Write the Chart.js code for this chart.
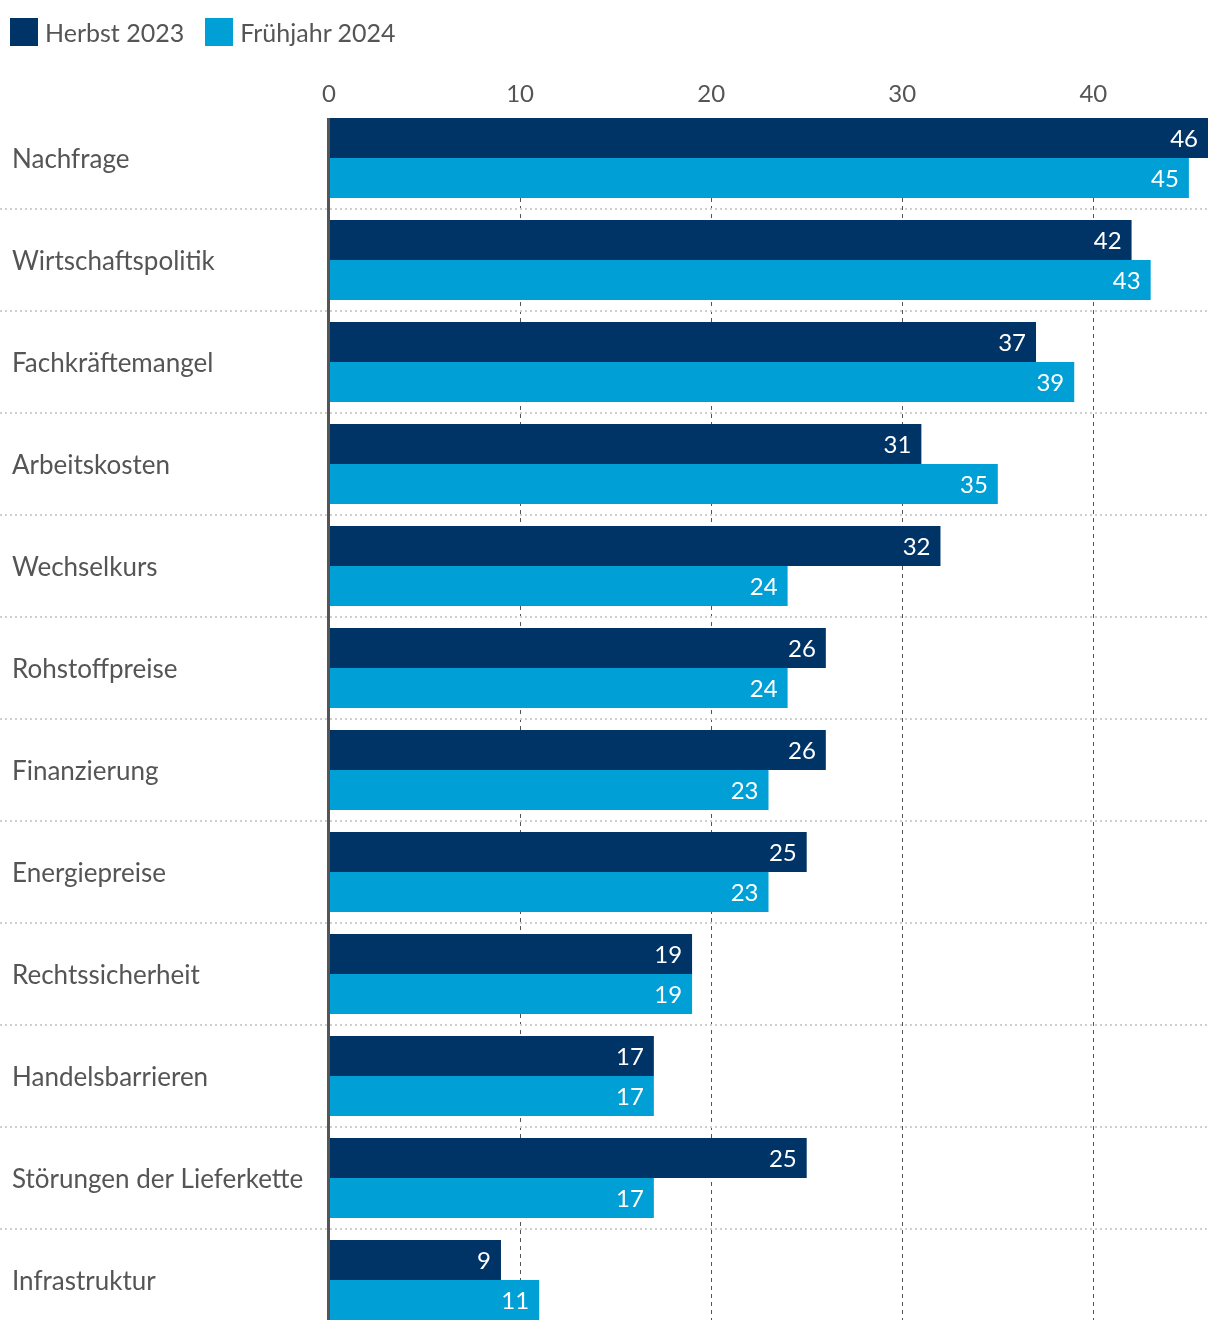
<!DOCTYPE html>
<html><head><meta charset="utf-8">
<script src="https://cdn.jsdelivr.net/npm/chart.js@4/dist/chart.umd.min.js"></script>
<style>
html,body{margin:0;padding:0;background:#fff;overflow:hidden;}
#wrap{position:relative;width:1220px;height:1332px;}
#legend{position:absolute;left:10px;top:17px;display:flex;align-items:center;font-family:Lato,sans-serif;font-size:25px;color:#555;}
#legend .it{display:flex;align-items:center;margin-right:21px;}
#legend .sw{width:28px;height:28px;margin-right:7px;}
canvas{position:absolute;left:0;top:0;}
</style></head>
<body><div id="wrap"><canvas id="c" width="1220" height="1332"></canvas>
<div id="legend"></div></div>
<script>
const categories = ["Nachfrage","Wirtschaftspolitik","Fachkräftemangel","Arbeitskosten","Wechselkurs","Rohstoffpreise","Finanzierung","Energiepreise","Rechtssicherheit","Handelsbarrieren","Störungen der Lieferkette","Infrastruktur"];
const herbst2023 = [46,42,37,31,32,26,26,25,19,17,25,9];
const fruehjahr2024 = [45,43,39,35,24,24,23,23,19,17,17,11];
const seriesNames = ["Herbst 2023","Frühjahr 2024"];
const seriesColors = ["#003366","#009fd6"];
const xTicks = [0,10,20,30,40];
const FONT = "Lato";
const CAT_PCT = 0.784;

const lg = document.getElementById('legend');
seriesNames.forEach((n,i)=>{
  const d=document.createElement('div');d.className='it';
  d.innerHTML='<span class="sw" style="background:'+seriesColors[i]+'"></span><span>'+n+'</span>';
  lg.appendChild(d);
});

function barSpan(chart){
  const {chartArea, scales:{y}} = chart;
  const band = y.getPixelForValue(1)-y.getPixelForValue(0);
  const gap = band*(1-CAT_PCT)/2;
  return {top: chartArea.top+gap, bottom: chartArea.bottom-gap};
}

const gridAndSeparators = {
  id:'gridAndSeparators',
  beforeDatasetsDraw(chart){
    const {ctx, scales:{x,y}, chartArea} = chart;
    const sp = barSpan(chart);
    ctx.save();
    ctx.strokeStyle='#555';ctx.lineWidth=1;ctx.setLineDash([4,4]);
    xTicks.forEach(v=>{
      if(v===0) return;
      const px=Math.round(x.getPixelForValue(v))+0.5;
      ctx.beginPath();ctx.moveTo(px,sp.top);ctx.lineTo(px,sp.bottom);ctx.stroke();
    });
    ctx.strokeStyle='#cfcfcf';ctx.lineWidth=2;ctx.setLineDash([2,3]);
    for(let i=0;i<categories.length-1;i++){
      const py=Math.round((y.getPixelForValue(i)+y.getPixelForValue(i+1))/2);
      ctx.beginPath();ctx.moveTo(0,py);ctx.lineTo(chartArea.right,py);ctx.stroke();
    }
    ctx.restore();
  }
};
const valueLabels = {
  id:'valueLabels',
  afterDatasetsDraw(chart){
    const ctx=chart.ctx;
    ctx.save();
    ctx.fillStyle='#fff';ctx.font='24px '+FONT;ctx.textAlign='right';ctx.textBaseline='middle';
    chart.data.datasets.forEach((ds,di)=>{
      chart.getDatasetMeta(di).data.forEach((bar,i)=>{
        ctx.fillText(String(ds.data[i]), bar.x-10, bar.y+1);
      });
    });
    ctx.restore();
  }
};
const yBorder = {
  id:'yBorder',
  afterDatasetsDraw(chart){
    const {ctx, chartArea} = chart;
    const sp = barSpan(chart);
    ctx.save();ctx.fillStyle='#555';
    ctx.fillRect(chartArea.left-2, sp.top, 3, sp.bottom-sp.top);
    ctx.restore();
  }
};

new Chart(document.getElementById('c'),{
  type:'bar',
  data:{labels:categories,datasets:[
    {label:seriesNames[0],data:herbst2023,backgroundColor:seriesColors[0]},
    {label:seriesNames[1],data:fruehjahr2024,backgroundColor:seriesColors[1]}
  ]},
  options:{
    indexAxis:'y',responsive:false,animation:false,
    categoryPercentage:CAT_PCT,barPercentage:1,
    layout:{padding:{left:12,right:12,top:0,bottom:1}},
    plugins:{legend:{display:false},tooltip:{enabled:false}},
    scales:{
      x:{position:'top',min:0,max:46,
        afterFit(s){s.height=107;s.paddingLeft=0;s.paddingRight=0;},
        afterBuildTicks(s){s.ticks=xTicks.map(v=>({value:v}));},
        ticks:{font:{family:FONT,size:24},color:'#555',padding:-2},
        grid:{display:false,drawTicks:false},
        border:{display:false}
      },
      y:{
        afterFit(s){s.width=317;s.paddingTop=0;s.paddingBottom=0;},
        ticks:{font:{family:FONT,size:26},color:'#555',crossAlign:'far',padding:0,labelOffset:2},
        grid:{display:false,drawTicks:false},
        border:{display:false}
      }
    }
  },
  plugins:[gridAndSeparators,valueLabels,yBorder]
});
</script></body></html>
